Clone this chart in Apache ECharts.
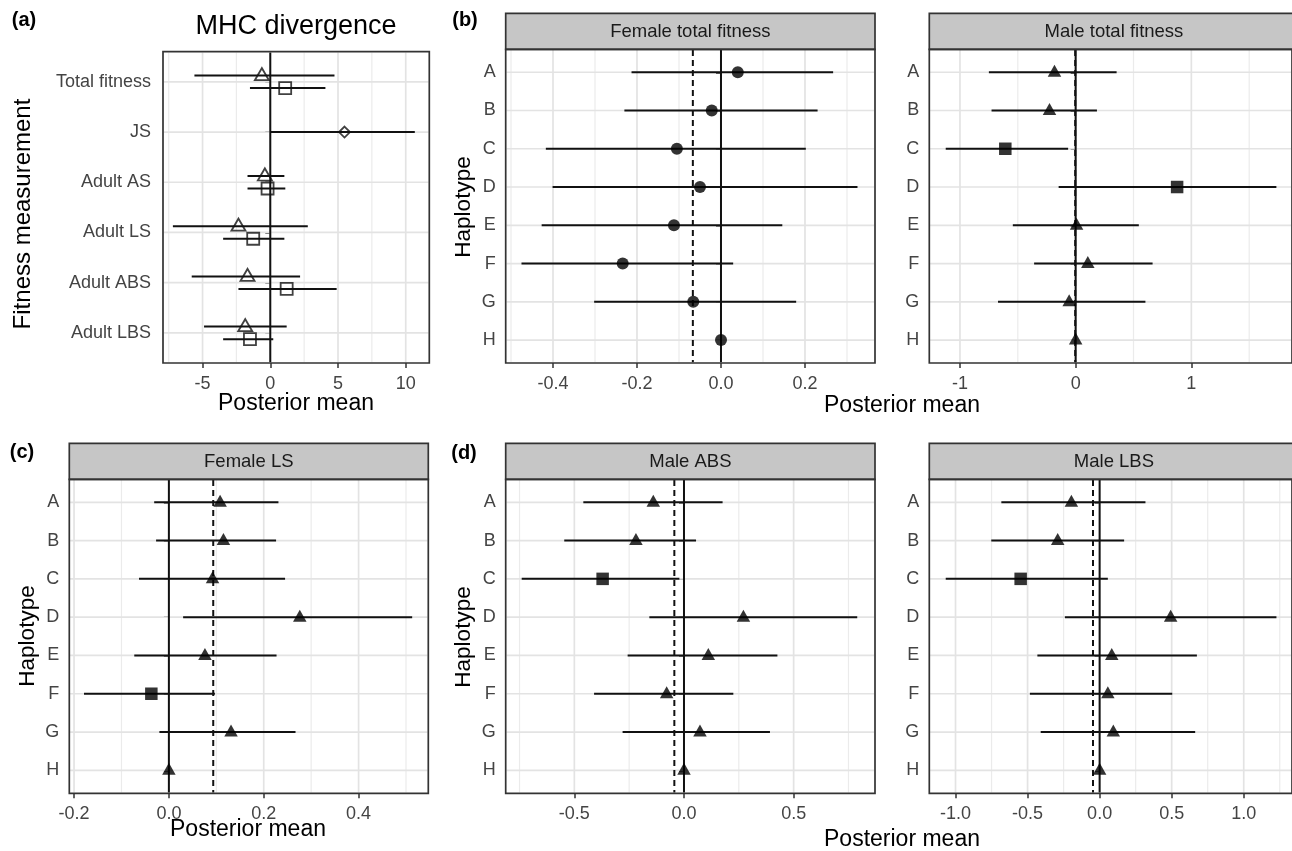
<!DOCTYPE html>
<html><head><meta charset="utf-8">
<script src="https://cdn.jsdelivr.net/npm/echarts@6/dist/echarts.min.js"></script>
<style>html,body{margin:0;padding:0;background:#fff}#c{width:1292px;height:851px}</style>
</head><body><div id="c"></div>
<script>
// ---------------- DATA ----------------
const haplotypes = ['A','B','C','D','E','F','G','H'];
const fitnessMeasures = ['Total fitness','JS','Adult AS','Adult LS','Adult ABS','Adult LBS'];

// (a) MHC divergence: triangles (upper dodge), squares (lower dodge), diamond (JS only)
const aTriMean = [-0.62, null, -0.40, -2.35, -1.68, -1.85];
const aTriLo   = [-5.60, null, -1.68, -7.19, -5.80, -4.89];
const aTriHi   = [ 4.74, null,  1.04,  2.77,  2.20,  1.21];
const aSqMean  = [ 1.10, null, -0.20, -1.26,  1.21, -1.50];
const aSqLo    = [-1.50, null, -1.68, -3.48, -2.35, -3.48];
const aSqHi    = [ 4.07, null,  1.11,  1.04,  4.90,  0.22];
const aDiaMean = [null, 5.48, null, null, null, null];
const aDiaLo   = [null, 0.05, null, null, null, null];
const aDiaHi   = [null, 10.67, null, null, null, null];
const aTicks = [-5, 0, 5, 10];
const aTickLabels = ['-5', '0', '5', '10'];
const aMinor = [-7.5, -2.5, 2.5, 7.5];

// (b) Female total fitness
const ftMean = [0.040, -0.022, -0.105, -0.050, -0.112, -0.234, -0.066, 0];
const ftLo   = [-0.213, -0.230, -0.417, -0.401, -0.427, -0.475, -0.302, 0];
const ftHi   = [0.267, 0.230, 0.202, 0.325, 0.146, 0.029, 0.179, 0];
const ftShape = ['circle','circle','circle','circle','circle','circle','circle','circle'];
const ftRef = -0.067;
const ftTicks = [-0.4, -0.2, 0.0, 0.2];
const ftTickLabels = ['-0.4', '-0.2', '0.0', '0.2'];
const ftMinor = [-0.5, -0.3, -0.1, 0.1, 0.3];

// (b) Male total fitness
const mtMean = [-0.183, -0.226, -0.608, 0.877, 0.008, 0.105, -0.056, 0];
const mtLo   = [-0.750, -0.727, -1.123, -0.147, -0.543, -0.359, -0.671, 0];
const mtHi   = [0.354, 0.184, -0.065, 1.735, 0.546, 0.665, 0.603, 0];
const mtShape = ['tri','tri','sq','sq','tri','tri','tri','tri'];
const mtRef = -0.004;
const mtTicks = [-1, 0, 1];
const mtTickLabels = ['-1', '0', '1'];
const mtMinor = [-0.5, 0.5, 1.5];

// (c) Female LS
const flsMean = [0.108, 0.115, 0.092, 0.276, 0.076, -0.037, 0.131, 0];
const flsLo   = [-0.031, -0.027, -0.063, 0.030, -0.073, -0.179, -0.020, 0];
const flsHi   = [0.231, 0.226, 0.245, 0.513, 0.227, 0.097, 0.267, 0];
const flsShape = ['tri','tri','tri','tri','tri','sq','tri','tri'];
const flsRef = 0.0935;
const flsTicks = [-0.2, 0.0, 0.2, 0.4];
const flsTickLabels = ['-0.2', '0.0', '0.2', '0.4'];
const flsMinor = [-0.1, 0.1, 0.3, 0.5];

// (d) Male ABS
const mabsMean = [-0.140, -0.219, -0.371, 0.271, 0.111, -0.079, 0.073, 0];
const mabsLo   = [-0.459, -0.546, -0.740, -0.158, -0.257, -0.410, -0.280, 0];
const mabsHi   = [0.176, 0.055, -0.021, 0.790, 0.426, 0.225, 0.392, 0];
const mabsShape = ['tri','tri','sq','tri','tri','tri','tri','tri'];
const mabsRef = -0.044;
const mabsTicks = [-0.5, 0.0, 0.5];
const mabsTickLabels = ['-0.5', '0.0', '0.5'];
const mabsMinor = [-0.75, -0.25, 0.25, 0.75];

// (d) Male LBS
const mlbsMean = [-0.196, -0.291, -0.548, 0.493, 0.084, 0.057, 0.095, 0];
const mlbsLo   = [-0.682, -0.752, -1.068, -0.241, -0.432, -0.484, -0.409, 0];
const mlbsHi   = [0.318, 0.170, 0.057, 1.227, 0.675, 0.504, 0.663, 0];
const mlbsShape = ['tri','tri','sq','tri','tri','tri','tri','tri'];
const mlbsRef = -0.046;
const mlbsTicks = [-1.0, -0.5, 0.0, 0.5, 1.0];
const mlbsTickLabels = ['-1.0', '-0.5', '0.0', '0.5', '1.0'];
const mlbsMinor = [-0.75, -0.25, 0.25, 0.75, 1.25];

// ---------------- LAYOUT / STYLE ----------------
const FONT = 'Liberation Sans, Arial, Helvetica, sans-serif';
const DODGE = 0.125;
const TICK_FONT = 18;
const panels = [
  { cats: fitnessMeasures, ticks: aTicks, labels: aTickLabels, minor: aMinor, xmin: -7.92, xmax: 11.74, refs: [],
    grid: { left: 163, top: 51.7, width: 266.3, height: 311.3 }, labelMargin: 12 },
  { cats: haplotypes, ticks: ftTicks, labels: ftTickLabels, minor: ftMinor, xmin: -0.5126, xmax: 0.3667,
    mean: ftMean, lo: ftLo, hi: ftHi, shape: ftShape, refs: [ftRef],
    grid: { left: 505.7, top: 49.3, width: 369.3, height: 313.7 }, labelMargin: 10 },
  { cats: haplotypes, ticks: mtTicks, labels: mtTickLabels, minor: mtMinor, xmin: -1.265, xmax: 1.870,
    mean: mtMean, lo: mtLo, hi: mtHi, shape: mtShape, refs: [mtRef],
    grid: { left: 929.3, top: 49.3, width: 369.3, height: 313.7 }, labelMargin: 10 },
  { cats: haplotypes, ticks: flsTicks, labels: flsTickLabels, minor: flsMinor, xmin: -0.210, xmax: 0.547,
    mean: flsMean, lo: flsLo, hi: flsHi, shape: flsShape, refs: [flsRef],
    grid: { left: 69.3, top: 479.3, width: 359, height: 314 }, labelMargin: 10 },
  { cats: haplotypes, ticks: mabsTicks, labels: mabsTickLabels, minor: mabsMinor, xmin: -0.813, xmax: 0.871,
    mean: mabsMean, lo: mabsLo, hi: mabsHi, shape: mabsShape, refs: [mabsRef],
    grid: { left: 505.7, top: 479.3, width: 369.3, height: 314 }, labelMargin: 10 },
  { cats: haplotypes, ticks: mlbsTicks, labels: mlbsTickLabels, minor: mlbsMinor, xmin: -1.182, xmax: 1.335,
    mean: mlbsMean, lo: mlbsLo, hi: mlbsHi, shape: mlbsShape, refs: [mlbsRef],
    grid: { left: 929.3, top: 479.3, width: 369.3, height: 314 }, labelMargin: 10 }
];

function symbolFor(shape, hollow) {
  const base = hollow
    ? { itemStyle: { color: 'rgba(0,0,0,0)', borderColor: '#111', borderWidth: 1.8 } }
    : { itemStyle: { color: '#000', borderWidth: 0 } };
  if (shape === 'tri') return Object.assign({ symbol: 'triangle', symbolSize: hollow ? [14, 12] : [13.5, 12], symbolOffset: [0, -1.5] }, base);
  if (shape === 'sq') return Object.assign({ symbol: 'rect', symbolSize: hollow ? [12, 12] : [12.5, 12.5] }, base);
  if (shape === 'dia') return Object.assign({ symbol: 'diamond', symbolSize: [11, 11] }, base);
  return Object.assign({ symbol: 'circle', symbolSize: 12 }, base);
}

function vLineRender(color, width, dash) {
  return function (params, api) {
    const cs = params.coordSys;
    const x = api.coord([api.value(0), api.value(1)])[0];
    return { type: 'line', silent: true,
      shape: { x1: x, y1: cs.y + 0.8, x2: x, y2: cs.y + cs.height - 0.8 },
      style: { stroke: color, lineWidth: width, lineDash: dash || null } };
  };
}
function hLineRender(color, width) {
  return function (params, api) {
    const cs = params.coordSys;
    const y = api.coord([api.value(0), api.value(1)])[1];
    return { type: 'line', silent: true,
      shape: { x1: cs.x + 0.8, y1: y, x2: cs.x + cs.width - 0.8, y2: y },
      style: { stroke: color, lineWidth: width } };
  };
}
function barRender(params, api) {
  const p1 = api.coord([api.value(0), api.value(2)]);
  const p2 = api.coord([api.value(1), api.value(2)]);
  return { type: 'line', silent: true,
    shape: { x1: p1[0], y1: p1[1], x2: p2[0], y2: p2[1] },
    style: { stroke: '#111', lineWidth: 2 } };
}
function frameRender(params) {
  const cs = params.coordSys;
  return { type: 'rect', silent: true,
    shape: { x: cs.x, y: cs.y, width: cs.width, height: cs.height },
    style: { fill: null, stroke: '#333', lineWidth: 1.7 } };
}
function nearestLabel(ticks, labels, v) {
  let best = 0;
  for (let i = 1; i < ticks.length; i++) if (Math.abs(ticks[i] - v) < Math.abs(ticks[best] - v)) best = i;
  return labels[best];
}

const grids = [], xAxes = [], yAxes = [], series = [];
panels.forEach((p, i) => {
  grids.push(Object.assign({ containLabel: false, show: false }, p.grid));
  xAxes.push({
    type: 'value', gridIndex: i, min: p.xmin, max: p.xmax,
    axisLine: { show: false }, splitLine: { show: false },
    axisTick: { show: true, customValues: p.ticks, length: 5, lineStyle: { color: '#333', width: 1.5 } },
    axisLabel: { customValues: p.ticks, margin: 12, color: '#444', fontSize: TICK_FONT, fontFamily: FONT,
      formatter: v => nearestLabel(p.ticks, p.labels, v) }
  });
  const catIdx = p.cats.map((c, k) => k + 1);
  yAxes.push({
    type: 'value', gridIndex: i, inverse: true, min: 0.4, max: p.cats.length + 0.6,
    axisLine: { show: false }, splitLine: { show: false },
    axisTick: { show: true, customValues: catIdx, length: 5, lineStyle: { color: '#333', width: 1.5 } },
    axisLabel: { customValues: catIdx, margin: p.labelMargin, color: '#444', fontSize: TICK_FONT, fontFamily: FONT,
      formatter: v => p.cats[Math.round(v) - 1] }
  });
  const common = { xAxisIndex: i, yAxisIndex: i, silent: true, animation: false };
  // gridlines
  series.push(Object.assign({ type: 'custom', z: 1, renderItem: vLineRender('#ebebeb', 1.2),
    data: p.minor.map(v => [v, 1]) }, common));
  series.push(Object.assign({ type: 'custom', z: 1, renderItem: vLineRender('#e3e3e3', 1.7),
    data: p.ticks.map(v => [v, 1]) }, common));
  series.push(Object.assign({ type: 'custom', z: 1, renderItem: hLineRender('#e3e3e3', 1.7),
    data: catIdx.map(k => [0, k]) }, common));
  // reference lines
  series.push(Object.assign({ type: 'custom', z: 2, renderItem: vLineRender('#111', 2),
    data: [[0, 1]] }, common));
  if (p.refs.length) {
    series.push(Object.assign({ type: 'custom', z: 2, renderItem: vLineRender('#111', 2, [6, 4]),
      data: p.refs.map(v => [v, 1]) }, common));
  }
  // error bars and points
  if (i === 0) {
    const groups = [
      { mean: aTriMean, lo: aTriLo, hi: aTriHi, shape: 'tri', off: -DODGE },
      { mean: aSqMean, lo: aSqLo, hi: aSqHi, shape: 'sq', off: DODGE },
      { mean: aDiaMean, lo: aDiaLo, hi: aDiaHi, shape: 'dia', off: 0 }
    ];
    groups.forEach(g => {
      const bars = [], pts = [];
      g.mean.forEach((m, k) => {
        if (m === null) return;
        bars.push([g.lo[k], g.hi[k], k + 1 + g.off]);
        pts.push(Object.assign({ value: [m, k + 1 + g.off] }, symbolFor(g.shape, true)));
      });
      series.push(Object.assign({ type: 'custom', z: 3, renderItem: barRender, encode: { x: [0, 1], y: 2 }, data: bars }, common));
      series.push(Object.assign({ type: 'scatter', z: 4, data: pts }, common));
    });
  } else {
    const bars = p.mean.map((m, k) => [p.lo[k], p.hi[k], k + 1]);
    const pts = p.mean.map((m, k) => Object.assign({ value: [m, k + 1] }, symbolFor(p.shape[k], false)));
    series.push(Object.assign({ type: 'custom', z: 3, renderItem: barRender, encode: { x: [0, 1], y: 2 }, data: bars }, common));
    series.push(Object.assign({ type: 'scatter', z: 4, data: pts }, common));
  }
  // frame
  series.push(Object.assign({ type: 'custom', z: 10, renderItem: frameRender, data: [[0, 1]] }, common));
});

// strips and texts
const graphic = [];
const strips = [
  { p: 1, text: 'Female total fitness', y: 13.3 },
  { p: 2, text: 'Male total fitness', y: 13.3 },
  { p: 3, text: 'Female LS', y: 443.3 },
  { p: 4, text: 'Male ABS', y: 443.3 },
  { p: 5, text: 'Male LBS', y: 443.3 }
];
strips.forEach(s => {
  const g = panels[s.p].grid;
  graphic.push({ type: 'rect', z: 5, silent: true,
    shape: { x: g.left, y: s.y, width: g.width, height: g.top - s.y },
    style: { fill: '#c6c6c6', stroke: '#333', lineWidth: 1.7 } });
  graphic.push({ type: 'text', z: 6, silent: true, x: g.left + g.width / 2, y: (s.y + g.top) / 2 + 0.5,
    style: { text: s.text, fill: '#1a1a1a', font: '18.5px ' + FONT, textAlign: 'center', textVerticalAlign: 'middle' } });
});
function txt(t, x, y, size, opts) {
  opts = opts || {};
  graphic.push({ type: 'text', z: 6, silent: true, x: x, y: y, rotation: opts.rot || 0,
    style: { text: t, fill: opts.fill || '#000', font: (opts.bold ? 'bold ' : '') + size + 'px ' + FONT,
      textAlign: 'center', textVerticalAlign: 'middle' } });
}
txt('(a)', 24, 20, 20, { bold: true });
txt('(b)', 465, 20, 20, { bold: true });
txt('(c)', 22, 452, 20, { bold: true });
txt('(d)', 464, 453, 20, { bold: true });
txt('MHC divergence', 296, 27, 27);
txt('Fitness measurement', 23, 214, 24, { rot: Math.PI / 2 });
txt('Haplotype', 464, 207, 22.5, { rot: Math.PI / 2 });
txt('Haplotype', 28, 636, 22.5, { rot: Math.PI / 2 });
txt('Haplotype', 464, 637, 22.5, { rot: Math.PI / 2 });
txt('Posterior mean', 296, 404, 23);
txt('Posterior mean', 902, 406, 23);
txt('Posterior mean', 248, 830, 23);
txt('Posterior mean', 902, 840, 23);

const chart = echarts.init(document.getElementById('c'), null, { renderer: 'canvas' });
chart.setOption({
  backgroundColor: '#fff',
  animation: false,
  textStyle: { fontFamily: FONT },
  grid: grids, xAxis: xAxes, yAxis: yAxes, series: series, graphic: graphic
});
</script></body></html>
